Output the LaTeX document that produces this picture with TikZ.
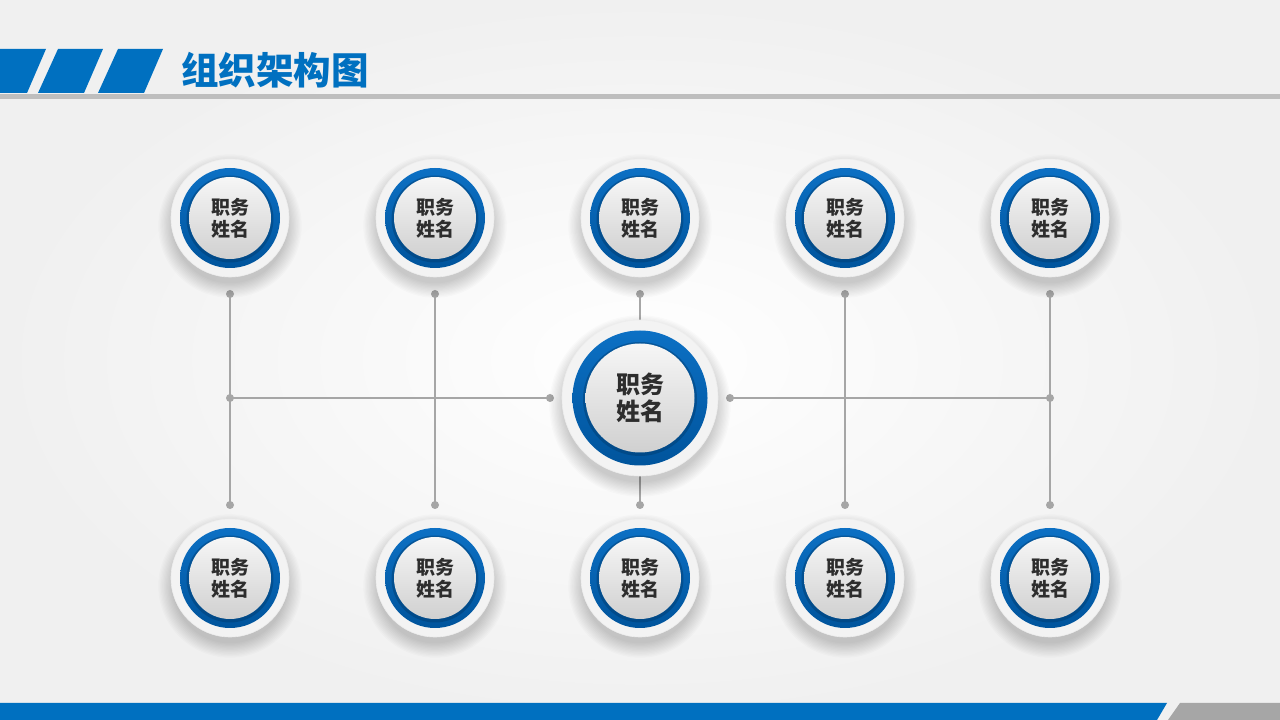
\documentclass[tikz,border=0pt]{standalone}
\usepackage{fontspec}
\newfontfamily\cjk{Noto Sans CJK SC}
\definecolor{mainblue}{RGB}{0,112,192}
\definecolor{ringtop}{RGB}{12,112,196}
\definecolor{ringbot}{RGB}{0,84,156}
\definecolor{lineg}{RGB}{166,166,166}
\definecolor{txtc}{RGB}{45,45,45}
\definecolor{bgedge}{RGB}{240,240,240}
\definecolor{ringw}{RGB}{243,243,243}
\definecolor{innertop}{RGB}{246,246,246}
\definecolor{innerbot}{RGB}{208,208,208}
\definecolor{rule}{RGB}{190,190,190}
\definecolor{barg}{RGB}{166,166,166}
\tikzset{
  conn/.style={draw=lineg, line width=1.6pt},
  dotc/.style={fill=lineg},
  stripe/.style={fill=mainblue},
}
% #1 name, #2 x, #3 y, #4 R outer, #5 R blue, #6 R inner, #7 font size, #8 line skip
\newcommand\OrgBall[8]{%
  \foreach \k in {1,...,12}{%
    \fill[black, opacity=0.016] (#2,#3-8) circle ({#4+14-\k*1.3});
  }
  \fill[ringw] (#2,#3) circle (#4);
  \draw[black!7, line width=0.6pt] (#2,#3) circle (#4);
  \shade[top color=ringtop, bottom color=ringbot] (#2,#3) circle (#5);
  \fill[ringbot!70!black, opacity=0.45] (#2,#3-1) circle (#6+2.5);
  \shade[top color=innertop, bottom color=innerbot] (#2,#3) circle (#6);
  \node[circle, inner sep=0pt, minimum size=2*#6, align=center, text=txtc,
        font={\cjk\bfseries\fontsize{#7}{#8}\selectfont}] (#1) at (#2,#3) {职务\\姓名};
}
\begin{document}
\begin{tikzpicture}[x=1pt, y=1pt]
\useasboundingbox (0,0) rectangle (1280,720);
% background
\shade[inner color=white, outer color=bgedge] (0,0) rectangle (1280,720);
% title band
\fill[stripe] (0,627) -- (27,627) -- (46,671) -- (0,671) -- cycle;
\fill[stripe] (38,627) -- (84,627) -- (103,671) -- (58,671) -- cycle;
\fill[stripe] (98,627) -- (144,627) -- (163,671) -- (118,671) -- cycle;
\fill[rule] (0,621) rectangle (1280,625.5);
\node[anchor=west, inner sep=0pt, text=mainblue, font={\cjk\bfseries\fontsize{37.5}{40}\selectfont}] (title) at (181,650) {组织架构图};
% bottom bar
\fill[mainblue] (0,0) -- (1157,0) -- (1167,17) -- (0,17) -- cycle;
\fill[barg] (1168,0) -- (1280,0) -- (1280,17) -- (1180,17) -- cycle;
% connector points
\foreach \i/\x in {1/230,2/435,3/640,4/845,5/1050}{
  \coordinate (td\i) at (\x,426);
  \coordinate (bd\i) at (\x,215);
}
\coordinate (md1) at (230,322);
\coordinate (md5) at (1050,322);
\coordinate (cl) at (550,322);
\coordinate (cr) at (730,322);
% connectors
\foreach \i in {1,...,5}{ \draw[conn] (td\i) -- (bd\i); }
\draw[conn] (md1) -- (cl);
\draw[conn] (cr) -- (md5);
\foreach \p in {td1,td2,td3,td4,td5,bd1,bd2,bd3,bd4,bd5,md1,md5,cl,cr}{
  \fill[dotc] (\p) circle (4);
}
% circles
\OrgBall{c}{640}{322}{78}{67.5}{54.5}{24}{27}
\foreach \i/\x in {1/230,2/435,3/640,4/845,5/1050}{
  \OrgBall{t\i}{\x}{502}{59}{50}{41}{19}{22}
  \OrgBall{b\i}{\x}{142}{59}{50}{41}{19}{22}
}
\end{tikzpicture}
\end{document}
